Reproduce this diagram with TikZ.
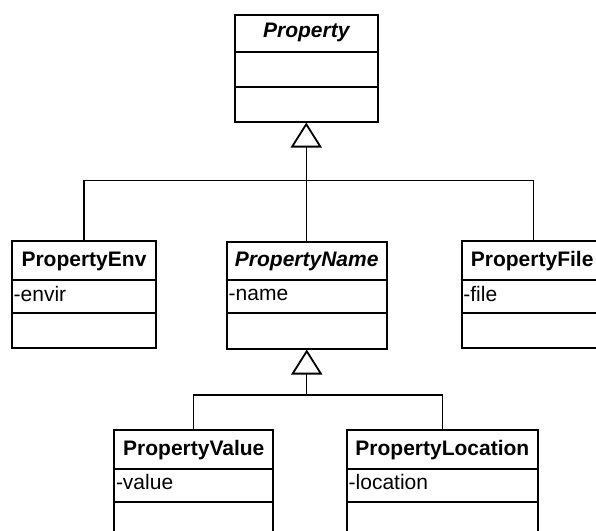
\documentclass[tikz,border=0pt]{standalone}
\usepackage{fontspec}
\setmainfont{Liberation Sans}
\usetikzlibrary{arrows.meta,calc}
\begin{document}
\begin{tikzpicture}[x=1pt,y=-1pt,
  box/.style={draw,line width=2pt,rectangle,inner sep=0pt,anchor=north west,minimum height=107pt},
  divider/.style={line width=2pt},
  title/.style={inner sep=0pt,anchor=base,font=\fontsize{21}{24}\selectfont\bfseries},
  ititle/.style={title,font=\fontsize{21}{24}\selectfont\bfseries\itshape},
  attr/.style={inner sep=0pt,anchor=base west,font=\fontsize{21}{24}\selectfont},
  conn/.style={line width=1.1pt},
  gen/.style={conn,-{Triangle[open,length=25pt,width=31pt,line width=1.8pt]}}
]
\useasboundingbox (0,0) rectangle (596,530);
\clip (0,0) rectangle (596,530);
\fill[white] (0,0) rectangle (596,530);

% Property
\node[box,minimum width=143.5pt] (prop) at (233.5,13.5) {};
\node[ititle] (propT) at ($(prop.north)+(0,24)$) {Property};
\draw[divider] ($(prop.north west)+(0,38.5)$) -- ($(prop.north east)+(0,38.5)$);
\draw[divider] ($(prop.north west)+(0,73.5)$) -- ($(prop.north east)+(0,73.5)$);

% PropertyEnv
\node[box,minimum width=144pt] (env) at (11,240) {};
\node[title] (envT) at ($(env.north)+(0,26)$) {PropertyEnv};
\draw[divider] ($(env.north west)+(0,40)$) -- ($(env.north east)+(0,40)$);
\node[attr] (envA) at ($(env.north west)+(2.5,61)$) {-envir};
\draw[divider] ($(env.north west)+(0,73)$) -- ($(env.north east)+(0,73)$);

% PropertyName
\node[box,minimum width=159.5pt] (name) at (226,240.5) {};
\node[ititle] (nameT) at ($(name.north)+(0,25.5)$) {PropertyName};
\draw[divider] ($(name.north west)+(0,39)$) -- ($(name.north east)+(0,39)$);
\node[attr] (nameA) at ($(name.north west)+(2.5,60)$) {-name};
\draw[divider] ($(name.north west)+(0,72.5)$) -- ($(name.north east)+(0,72.5)$);

% PropertyFile
\node[box,minimum width=144pt] (file) at (460.7,240) {};
\node[title] (fileT) at ($(file.north west)+(10,26)$) [anchor=base west] {PropertyFile};
\draw[divider] ($(file.north west)+(0,40)$) -- ($(file.north east)+(0,40)$);
\node[attr] (fileA) at ($(file.north west)+(2.5,61)$) {-file};
\draw[divider] ($(file.north west)+(0,73)$) -- ($(file.north east)+(0,73)$);

% PropertyValue
\node[box,minimum width=159pt] (value) at (113.3,429.3) {};
\node[title] (valueT) at ($(value.north)+(0,26)$) {PropertyValue};
\draw[divider] ($(value.north west)+(0,39.2)$) -- ($(value.north east)+(0,39.2)$);
\node[attr] (valueA) at ($(value.north west)+(2.5,60)$) {-value};
\draw[divider] ($(value.north west)+(0,72.7)$) -- ($(value.north east)+(0,72.7)$);

% PropertyLocation
\node[box,minimum width=190.7pt] (loc) at (346,429.3) {};
\node[title] (locT) at ($(loc.north)+(0,26)$) {PropertyLocation};
\draw[divider] ($(loc.north west)+(0,39.7)$) -- ($(loc.north east)+(0,39.7)$);
\node[attr] (locA) at ($(loc.north west)+(2.5,60.5)$) {-location};
\draw[divider] ($(loc.north west)+(0,72.4)$) -- ($(loc.north east)+(0,72.4)$);

% connectors
\coordinate (j1) at (prop.south |- 0,180.5);
\draw[conn] (env.north) |- (j1) -| (file.north);
\draw[conn] (name.north) -- (name.north |- j1);
\draw[gen] (j1) -- (prop.south);

\coordinate (j2) at (name.south |- 0,395);
\draw[conn] (value.north) |- (j2) -| (loc.north);
\draw[gen] (j2) -- (name.south);
\end{tikzpicture}
\end{document}
